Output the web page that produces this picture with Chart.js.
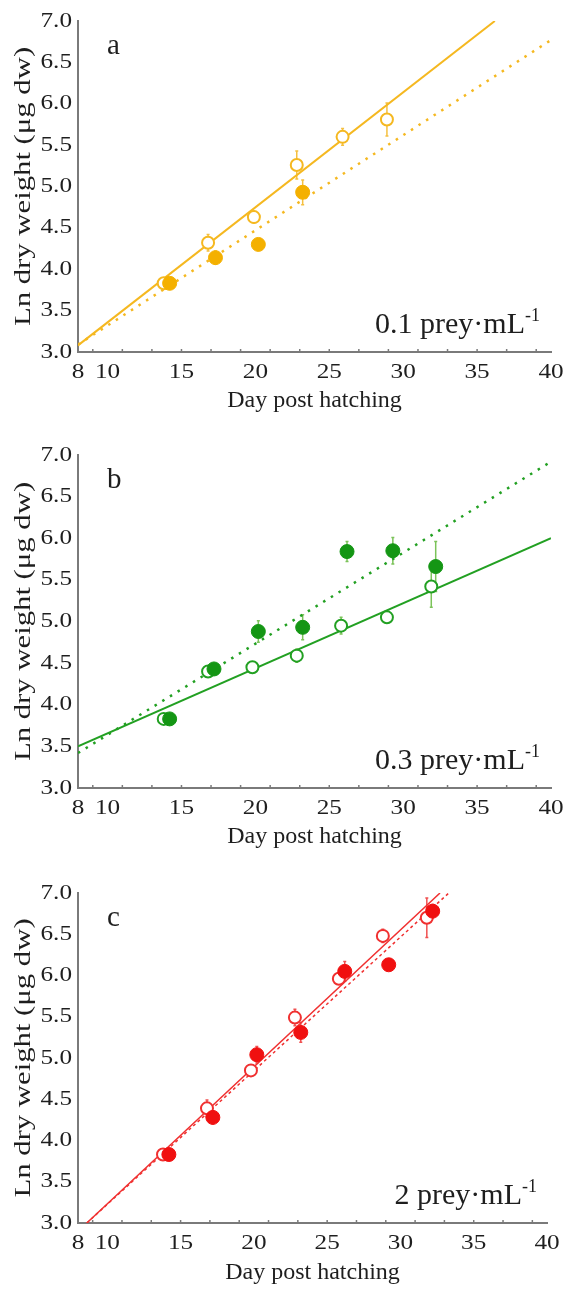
<!DOCTYPE html>
<html lang="en">
<head>
<meta charset="UTF-8">
<title>Ln dry weight by day post hatching</title>
<script src="https://cdn.jsdelivr.net/npm/chart.js@4.4.1/dist/chart.umd.min.js"></script>
<style>
  body { margin: 0; background: #fff; }
  .panel { position: absolute; left: 0; width: 564px; height: 417px; }
</style>
</head>
<body>
<div class="panel" style="top:0px"><canvas id="chartA" width="564" height="417"></canvas></div>
<div class="panel" style="top:434px"><canvas id="chartB" width="564" height="417"></canvas></div>
<div class="panel" style="top:872px"><canvas id="chartC" width="564" height="417"></canvas></div>
<script>
// x axis labels and the small marks between them
var xTickValues = [8, 10, 15, 20, 25, 30, 35, 40];
var xMinorTicks = [9, 11, 13, 15, 17, 19, 21, 23, 25, 27, 29, 31, 33, 35, 37, 39];

// panel a, 0.1 prey/mL
var daysOpenA = [13.8, 16.8, 19.9, 22.8, 25.9, 28.9];
var lnOpenA = [3.83, 4.32, 4.63, 5.26, 5.60, 5.81];
var errOpenA = [0.03, 0.10, 0.07, 0.17, 0.10, 0.20];
var daysFilledA = [14.2, 17.3, 20.2, 23.2];
var lnFilledA = [3.83, 4.14, 4.30, 4.93];
var errFilledA = [0.03, 0.08, 0.02, 0.15];
var fitOpenA = [[8, 3.08], [36.2, 7.0]];
var fitFilledA = [[8, 3.09], [40, 6.77]];

// panel b, 0.3 prey/mL
var daysOpenB = [13.8, 16.8, 19.8, 22.8, 25.8, 28.9, 31.9];
var lnOpenB = [3.83, 4.40, 4.45, 4.59, 4.95, 5.05, 5.42];
var errOpenB = [0.03, 0.04, 0.04, 0.08, 0.10, 0.07, 0.25];
var daysFilledB = [14.2, 17.2, 20.2, 23.2, 26.2, 29.3, 32.2];
var lnFilledB = [3.83, 4.43, 4.88, 4.93, 5.84, 5.85, 5.66];
var errFilledB = [0.03, 0.04, 0.13, 0.15, 0.12, 0.16, 0.30];
var fitOpenB = [[8, 3.50], [40, 6.00]];
var fitFilledB = [[8, 3.42], [40, 6.92]];

// panel c, 2 prey/mL
var daysOpenC = [13.8, 16.8, 19.8, 22.8, 25.8, 28.8, 31.8];
var lnOpenC = [3.83, 4.39, 4.85, 5.49, 5.96, 6.48, 6.70];
var errOpenC = [0.03, 0.10, 0.05, 0.10, 0.06, 0.08, 0.24];
var daysFilledC = [14.2, 17.2, 20.2, 23.2, 26.2, 29.2, 32.2];
var lnFilledC = [3.83, 4.28, 5.04, 5.31, 6.05, 6.13, 6.78];
var errFilledC = [0.03, 0.08, 0.10, 0.12, 0.12, 0.05, 0.08];
var fitOpenC = [[8.6, 3.0], [32.7, 7.0]];
var fitFilledC = [[8.6, 3.0], [33.3, 7.0]];

var serif = '"Liberation Serif", "DejaVu Serif", serif';
var textColor = '#1e1e1e';
var axisColor = '#7a7a7a';
var tickFont = '21px ' + serif;
var tickStretch = 1.2;

function toPoints(xs, ys) {
  return xs.map(function (x, i) { return {x: x, y: ys[i]}; });
}
function pairsToPoints(pairs) {
  return pairs.map(function (p) { return {x: p[0], y: p[1]}; });
}

// text squeezed/widened along its baseline
function wideText(ctx, text, x, y, sx, align) {
  ctx.save();
  ctx.translate(x, y);
  ctx.scale(sx, 1);
  ctx.textAlign = align;
  ctx.fillText(text, 0, 0);
  ctx.restore();
}

// error bars, tick labels, minor x ticks, y title, panel letter and density label
var panelDecor = {
  id: 'panelDecor',
  beforeDatasetsDraw: function (chart) {
    var ctx = chart.ctx;
    var yScale = chart.scales.y;
    ctx.save();
    chart.data.datasets.forEach(function (ds, i) {
      if (!ds.errors) return;
      var meta = chart.getDatasetMeta(i);
      ctx.strokeStyle = ds.errorColor;
      ctx.lineWidth = 1.5;
      meta.data.forEach(function (pt, j) {
        var v = ds.data[j].y, e = ds.errors[j];
        var top = yScale.getPixelForValue(v + e);
        var bot = yScale.getPixelForValue(v - e);
        ctx.beginPath();
        ctx.moveTo(pt.x, top);
        ctx.lineTo(pt.x, bot);
        ctx.moveTo(pt.x - 1.5, top);
        ctx.lineTo(pt.x + 1.5, top);
        ctx.moveTo(pt.x - 1.5, bot);
        ctx.lineTo(pt.x + 1.5, bot);
        ctx.stroke();
      });
    });
    ctx.restore();
  },
  afterDraw: function (chart) {
    var ctx = chart.ctx;
    var area = chart.chartArea;
    var xScale = chart.scales.x;
    var yScale = chart.scales.y;
    var opts = chart.options.plugins.panelDecor;
    ctx.save();
    // small marks sitting on the x axis
    ctx.strokeStyle = axisColor;
    ctx.lineWidth = 1.5;
    xMinorTicks.forEach(function (v) {
      var px = xScale.getPixelForValue(v);
      ctx.beginPath();
      ctx.moveTo(px, area.bottom);
      ctx.lineTo(px, area.bottom - 3);
      ctx.stroke();
    });

    // tick labels from the scales' own ticks
    ctx.fillStyle = textColor;
    ctx.font = tickFont;
    ctx.textBaseline = 'middle';
    xScale.ticks.forEach(function (t) {
      wideText(ctx, String(t.value), xScale.getPixelForValue(t.value), area.bottom + 20, tickStretch, 'center');
    });
    yScale.ticks.forEach(function (t) {
      wideText(ctx, t.value.toFixed(1), area.left - 6, yScale.getPixelForValue(t.value), tickStretch, 'right');
    });

    // y title, drawn a little elongated along its length
    ctx.save();
    ctx.translate(24, (area.top + area.bottom) / 2);
    ctx.rotate(-Math.PI / 2);
    ctx.scale(1.28, 1);
    ctx.font = '24px ' + serif;
    ctx.textAlign = 'center';
    ctx.textBaseline = 'middle';
    ctx.fillText('Ln dry weight (\u03bcg dw)', 0, 0);
    ctx.restore();

    ctx.textBaseline = 'alphabetic';
    ctx.textAlign = 'left';
    ctx.font = '29px ' + serif;
    ctx.fillText(opts.letter, area.left + 29, area.top + 33);

    // "x prey·mL-1" with a raised -1
    var base = opts.label + ' prey\u00b7mL';
    ctx.font = '30px ' + serif;
    var wBase = ctx.measureText(base).width;
    ctx.font = '18px ' + serif;
    var wSup = ctx.measureText('-1').width;
    var right = area.right - opts.labelInset;
    var baseline = area.bottom - 19;
    ctx.font = '30px ' + serif;
    ctx.fillText(base, right - wSup - wBase, baseline);
    ctx.font = '18px ' + serif;
    ctx.fillText('-1', right - wSup, baseline - 12);
    ctx.restore();
  }
};

function makePanel(id, p) {
  var datasets = [
    {
      label: 'filled', data: toPoints(p.daysFilled, p.lnFilled), errors: p.errFilled,
      errorColor: p.errColor, pointRadius: 7, pointBorderWidth: 1,
      pointBackgroundColor: p.filledColor, pointBorderColor: p.filledColor, showLine: false, order: 1
    },
    {
      label: 'open', data: toPoints(p.daysOpen, p.lnOpen), errors: p.errOpen,
      errorColor: p.errColor, pointRadius: 6, pointBorderWidth: 2,
      pointBackgroundColor: '#fff', pointBorderColor: p.color, showLine: false, order: 2
    },
    {
      type: 'line', label: 'fit open', data: pairsToPoints(p.fitOpen),
      borderColor: p.color, borderWidth: p.lineWidth, pointRadius: 0, fill: false, order: 3
    },
    {
      type: 'line', label: 'fit filled', data: pairsToPoints(p.fitFilled),
      borderColor: p.color, borderWidth: p.dotWidth, borderDash: p.dash,
      pointRadius: 0, fill: false, order: 4
    }
  ];

  return new Chart(document.getElementById(id), {
    type: 'scatter',
    data: {datasets: datasets},
    plugins: [panelDecor],
    options: {
      responsive: false,
      animation: false,
      events: [],
      layout: {padding: {top: 21, right: p.padRight, left: 0, bottom: 0}},
      plugins: {
        legend: {display: false},
        tooltip: {enabled: false},
        panelDecor: {letter: p.letter, label: p.label, labelInset: p.labelInset}
      },
      scales: {
        x: {
          type: 'linear', min: 8, max: 40,
          afterBuildTicks: function (s) {
            s.ticks = xTickValues.map(function (v) { return {value: v}; });
          },
          afterFit: function (s) { s.height = p.xAxisHeight; },
          ticks: {display: false},
          grid: {display: false, drawTicks: false},
          border: {display: true, color: axisColor, width: 2},
          title: {
            display: true, text: 'Day post hatching', color: textColor,
            font: {family: serif, size: 24}, padding: {top: 0, bottom: p.titlePad}
          }
        },
        y: {
          min: 3, max: 7,
          afterFit: function (s) { s.width = 78; },
          ticks: {display: false, stepSize: 0.5},
          grid: {display: false, drawTicks: false},
          border: {display: true, color: axisColor, width: 2},
          title: {display: false}
        }
      }
    }
  });
}

makePanel('chartA', {
  letter: 'a', label: '0.1', color: '#f5b820', filledColor: '#f4b000', errColor: '#f5c040',
  daysOpen: daysOpenA, lnOpen: lnOpenA, errOpen: errOpenA,
  daysFilled: daysFilledA, lnFilled: lnFilledA, errFilled: errFilledA,
  fitOpen: fitOpenA, fitFilled: fitFilledA,
  lineWidth: 2, dotWidth: 2.5, dash: [2.5, 6.5],
  padRight: 13, labelInset: 11, xAxisHeight: 65, titlePad: 2
});
makePanel('chartB', {
  letter: 'b', label: '0.3', color: '#22a022', filledColor: '#149614', errColor: '#7cc35a',
  daysOpen: daysOpenB, lnOpen: lnOpenB, errOpen: errOpenB,
  daysFilled: daysFilledB, lnFilled: lnFilledB, errFilled: errFilledB,
  fitOpen: fitOpenB, fitFilled: fitFilledB,
  lineWidth: 2, dotWidth: 2.5, dash: [2.5, 6.5],
  padRight: 13, labelInset: 11, xAxisHeight: 63, titlePad: 0
});
makePanel('chartC', {
  letter: 'c', label: '2', color: '#f03030', filledColor: '#f01010', errColor: '#f05050',
  daysOpen: daysOpenC, lnOpen: lnOpenC, errOpen: errOpenC,
  daysFilled: daysFilledC, lnFilled: lnFilledC, errFilled: errFilledC,
  fitOpen: fitOpenC, fitFilled: fitFilledC,
  lineWidth: 1.5, dotWidth: 1.5, dash: [3, 3],
  padRight: 17, labelInset: 10, xAxisHeight: 66, titlePad: 2
});
</script>
</body>
</html>
